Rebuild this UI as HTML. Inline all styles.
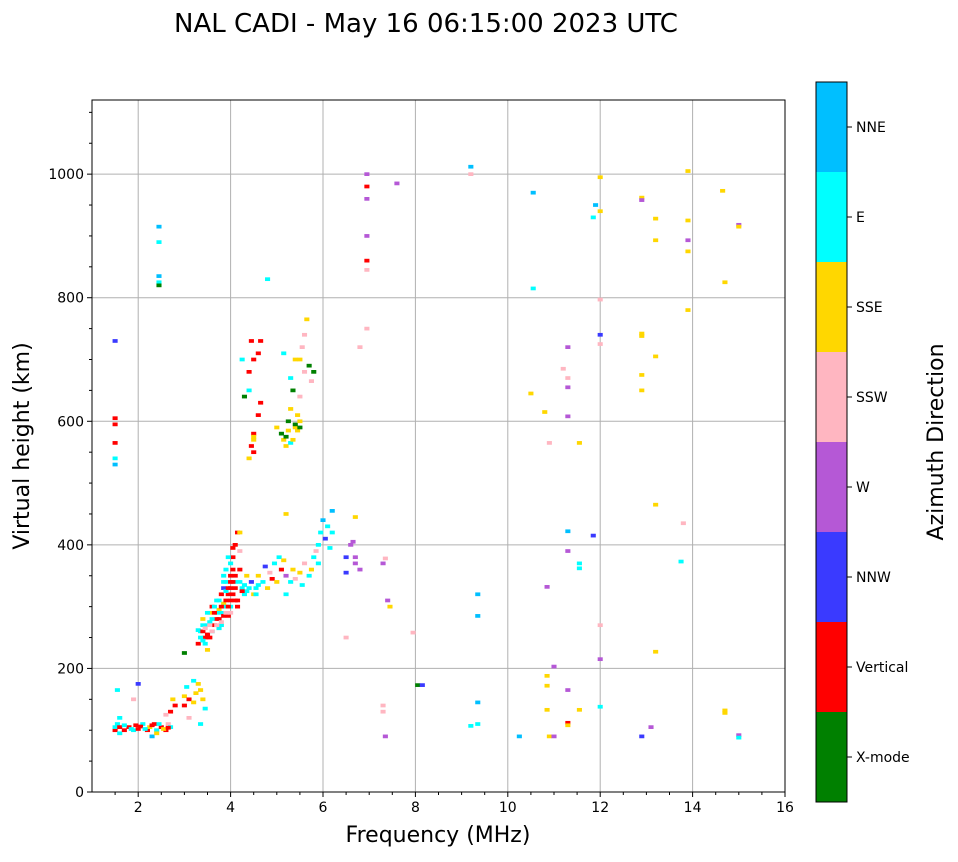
<!DOCTYPE html>
<html><head><meta charset="utf-8">
<style>
body{margin:0;background:#fff;font-family:"Liberation Sans","DejaVu Sans",sans-serif;}
svg text{font-family:"DejaVu Sans","Liberation Sans",sans-serif;}
</style></head>
<body>
<svg id="chart" width="958" height="857" viewBox="0 0 958 857" xmlns="http://www.w3.org/2000/svg">
<text x="426" y="32" font-size="26" text-anchor="middle">NAL CADI - May 16 06:15:00 2023 UTC</text>
<g id="grid"></g>
<g id="marks"></g>
<rect x="92" y="100" width="693" height="692" fill="none" stroke="#000" stroke-width="1"/>
<g id="axes"></g>
<text x="438" y="842" font-size="22" text-anchor="middle">Frequency (MHz)</text>
<text transform="translate(29,446) rotate(-90)" font-size="22" text-anchor="middle">Virtual height (km)</text>
<g id="cbar"></g>
<text transform="translate(943,442) rotate(-90)" font-size="22" text-anchor="middle">Azimuth Direction</text>
</svg>
<script>
const categories=["X-mode","Vertical","NNW","W","SSW","SSE","E","NNE"];
const catColors=["#008000","#ff0000","#3a3aff","#b558d6","#ffb6c1","#ffd700","#00ffff","#00bfff"];
const xTicks=[2,4,6,8,10,12,14,16];
const yTicks=[0,200,400,600,800,1000];
const freqs=[],heights=[],cats=[];
const points=[
[1.5,100,1],[1.5,105,6],[1.55,110,6],[1.6,95,6],[1.6,120,6],[1.55,165,6],[1.7,100,1],[1.8,105,1],[1.9,100,6],[1.95,108,1],[2.0,102,1],[2.1,110,6],[2.2,100,1],[2.25,105,5],[2.3,90,7],[2.35,110,1],[2.4,100,6],[2.5,105,1],[2.6,100,1],[2.65,110,4],[2.7,105,6],[2.7,130,1],[2.75,150,5],[2.8,140,1],[2.6,125,4],[2.0,175,2],[2.4,95,5],[1.9,150,4],
[1.6,105,1],[1.7,108,6],[1.85,102,6],[2.05,106,1],[2.15,102,6],[2.3,108,1],[2.45,110,6],[2.55,102,5],[2.65,104,1],
[3.0,140,1],[3.0,155,5],[3.05,170,6],[3.1,150,1],[3.1,120,4],[3.2,145,5],[3.25,160,5],[3.35,165,5],[3.4,150,5],[3.45,135,6],[3.3,175,5],[3.0,225,0],[3.2,180,6],[3.35,110,6],
[3.3,240,1],[3.35,260,6],[3.4,280,5],[3.45,250,1],[3.5,270,6],[3.55,290,5],[3.6,300,1],[3.6,260,6],[3.7,280,1],[3.7,310,6],[3.75,295,5],[3.8,320,1],[3.8,290,6],[3.85,330,2],[3.9,300,1],[3.9,340,6],[3.95,320,1],[4.0,350,1],[4.0,300,6],[4.05,380,1],[4.05,320,1],[4.1,400,1],[4.1,340,6],[4.15,420,1],[4.15,310,1],[4.2,360,1],[4.2,390,4],[4.25,330,6],[4.3,320,6],[4.35,350,5],[4.4,330,6],[4.45,340,2],[4.5,320,5],[4.55,330,6],[4.6,350,5],[4.7,340,6],[4.75,365,2],[4.8,330,5],[4.85,355,4],[4.9,345,1],[4.95,370,6],[5.0,340,5],[5.05,380,6],[5.1,360,1],[5.15,375,5],[5.2,350,3],[5.3,340,6],[5.35,360,5],[5.4,345,4],[5.5,355,5],[5.55,335,6],[5.6,370,4],[5.7,350,6],[5.75,360,5],[5.8,380,6],[5.85,390,4],[5.9,400,6],[5.95,420,6],[6.0,440,7],[6.05,410,2],[6.1,430,6],[6.15,395,6],[6.2,455,7],[6.2,420,6],[5.9,370,6],[4.2,420,5],[6.7,445,5],[5.2,450,5],[5.2,320,6],
[3.5,230,5],[3.65,270,1],[3.75,265,6],[3.85,305,5],[3.95,285,1],[4.0,330,1],[4.1,310,1],[4.0,370,6],[3.55,250,1],
[3.85,350,6],[3.85,340,6],[3.9,325,6],[3.85,300,6],[3.75,310,6],[3.7,290,6],[3.6,280,6],[3.5,290,6],[3.4,270,6],[3.35,250,6],[3.45,240,6],[3.55,275,6],[3.65,300,6],[3.8,270,6],[4.3,335,6],[4.35,325,6],[4.55,320,6],[3.9,360,6],[3.95,380,6],[3.3,262,6],[3.4,245,6],[4.2,340,6],[4.6,335,6],
[4.05,360,1],[4.1,350,1],[4.05,340,1],[4.0,310,1],[3.95,330,1],[3.9,310,1],[3.8,300,1],[3.75,280,1],[3.65,290,1],[3.5,255,1],[3.4,260,1],[4.1,330,1],[4.15,300,1],[4.25,325,1],[4.0,340,1],[3.95,300,1],[4.05,395,1],[3.85,285,1],
[3.7,270,4],[3.6,260,4],[3.45,265,4],[3.8,275,4],[4.0,290,4],[3.55,270,4],[3.9,290,4],
[6.5,355,2],[6.5,380,2],[6.6,400,3],[6.65,405,3],[6.7,380,3],[6.8,360,3],[6.7,370,3],[6.5,250,4],[7.3,370,3],[7.35,378,4],[7.4,310,3],[7.45,300,5],[7.95,258,4],
[4.4,540,5],[4.45,560,1],[4.5,580,1],[4.5,570,5],[4.6,610,1],[4.65,630,1],[4.4,650,6],[4.4,680,1],[4.5,700,1],[4.6,710,1],[4.45,730,1],[4.65,730,1],[4.25,700,6],[4.3,640,0],[4.8,830,6],[5.0,590,5],[5.1,580,0],[5.15,570,5],[5.2,560,5],[5.25,600,0],[5.3,620,5],[5.35,650,0],[5.4,590,5],[5.45,610,5],[5.5,640,4],[5.5,700,5],[5.55,720,4],[5.6,740,4],[5.65,765,5],[5.6,680,4],[5.7,690,0],[5.8,680,0],[5.75,665,4],[5.3,670,6],[5.15,710,6],[5.4,700,5],
[4.5,575,5],[4.5,550,1],[5.2,575,0],[5.25,585,5],[5.3,565,6],[5.4,595,0],[5.45,585,5],[5.5,600,5],[5.5,590,0],[5.35,570,5],
[1.5,730,2],[1.5,605,1],[1.5,595,1],[1.5,565,1],[1.5,540,6],[1.5,530,7],[2.45,915,7],[2.45,890,6],[2.45,835,7],[2.45,825,6],[2.45,820,0],
[6.95,1000,3],[6.95,980,1],[6.95,960,3],[6.95,900,3],[6.95,860,1],[6.95,845,4],[6.95,750,4],[6.8,720,4],[7.6,985,3],
[9.2,1012,7],[9.2,1000,4],[10.55,970,7],[10.55,815,6],[10.5,645,5],[10.8,615,5],[10.9,565,4],[11.2,685,4],[11.3,720,3],[11.3,670,4],[11.3,655,3],[11.3,608,3],[11.55,565,5],[11.3,422,7],[11.85,415,2],[11.3,390,3],[11.55,370,6],[11.55,362,6],[10.85,332,3],[9.35,320,7],[9.35,285,7],[12.0,995,5],[11.9,950,7],[12.0,940,5],[11.85,930,6],[12.0,797,4],[12.0,740,2],[12.0,725,4],[12.0,270,4],[12.0,215,3],[12.0,138,6],[11.0,203,3],[10.85,188,5],[10.85,172,5],[11.3,165,3],[10.85,133,5],[11.55,133,5],[11.3,112,1],[11.3,108,5],[10.9,90,5],[11.0,90,3],[10.25,90,7],[9.35,145,7],[9.35,110,6],[9.2,107,6],[8.05,173,0],[8.15,173,2],[7.35,90,3],[7.3,130,4],[7.3,140,4],
[12.9,962,5],[12.9,958,3],[13.2,928,5],[13.2,893,5],[13.9,1005,5],[13.9,925,5],[13.9,893,3],[13.9,875,5],[14.65,973,5],[14.7,825,5],[15.0,918,3],[15.0,915,5],[13.9,780,5],[12.9,742,5],[12.9,738,5],[13.2,705,5],[12.9,675,5],[12.9,650,5],[13.2,465,5],[13.8,435,4],[13.75,373,6],[13.2,227,5],[14.7,132,5],[14.7,128,5],[15.0,92,3],[15.0,88,6],[13.1,105,3],[12.9,90,2]
];
points.forEach(p=>{freqs.push(p[0]);heights.push(p[1]);cats.push(p[2]);});

const X0=92,X1=785,Y0=792,Y1=100;
const xMin=1,xMax=16,yMin=0,yMax=1120;
const xs=v=>X0+(v-xMin)/(xMax-xMin)*(X1-X0);
const ys=v=>Y0-(v-yMin)/(yMax-yMin)*(Y0-Y1);
const NS="http://www.w3.org/2000/svg";
function mk(tag,attrs,parent){const e=document.createElementNS(NS,tag);for(const k in attrs)e.setAttribute(k,attrs[k]);parent.appendChild(e);return e;}
const grid=document.getElementById('grid'),axes=document.getElementById('axes'),marks=document.getElementById('marks'),cbar=document.getElementById('cbar');
xTicks.forEach(t=>{
  if(t<16){const l=mk('line',{x1:xs(t),x2:xs(t),y1:Y1,y2:Y0,stroke:'#b0b0b0','stroke-width':1},grid);
  
  }
  mk('line',{x1:xs(t),x2:xs(t),y1:Y0,y2:Y0+5,stroke:'#000'},axes);
  const tx=mk('text',{x:xs(t),y:Y0+20,'font-size':14,'text-anchor':'middle'},axes);tx.textContent=t;
  
  
});
for(let m=1.5;m<16;m+=0.5){if(m%2===0)continue;mk('line',{x1:xs(m),x2:xs(m),y1:Y0,y2:Y0+3,stroke:'#000'},axes);}
yTicks.forEach(t=>{
  if(t>0){const l=mk('line',{x1:X0,x2:X1,y1:ys(t),y2:ys(t),stroke:'#b0b0b0','stroke-width':1},grid);
  
  }
  mk('line',{x1:X0-5,x2:X0,y1:ys(t),y2:ys(t),stroke:'#000'},axes);
  const tx=mk('text',{x:X0-8,y:ys(t)+5,'font-size':14,'text-anchor':'end'},axes);tx.textContent=t;
  
  
});
for(let m=50;m<1120;m+=50){if(m%200===0)continue;mk('line',{x1:X0-3,x2:X0,y1:ys(m),y2:ys(m),stroke:'#000'},axes);}
const dw=0.11,dh=6;
freqs.forEach((f,i)=>{
  const r=mk('rect',{x:xs(f)-(xs(dw)-xs(0))/2,y:ys(heights[i])-(ys(0)-ys(dh))/2,width:xs(dw)-xs(0),height:ys(0)-ys(dh),fill:catColors[cats[i]]},marks);
  
  
});
const cbTop=82,cbBot=802,cbX=816,cbW=31,seg=(cbBot-cbTop)/categories.length;
categories.forEach((c,i)=>{
  const y=cbBot-(i+1)*seg;
  const r=mk('rect',{x:cbX,y:y,width:cbW,height:seg,fill:catColors[i]},cbar);
  
  
  mk('line',{x1:cbX+cbW,x2:cbX+cbW+5,y1:y+seg/2,y2:y+seg/2,stroke:'#000'},cbar);
  const t=mk('text',{x:cbX+cbW+9,y:y+seg/2+5,'font-size':14},cbar);t.textContent=c;
  
  
});
mk('rect',{x:cbX,y:cbTop,width:cbW,height:cbBot-cbTop,fill:'none',stroke:'#000'},cbar);
</script>
</body></html>
